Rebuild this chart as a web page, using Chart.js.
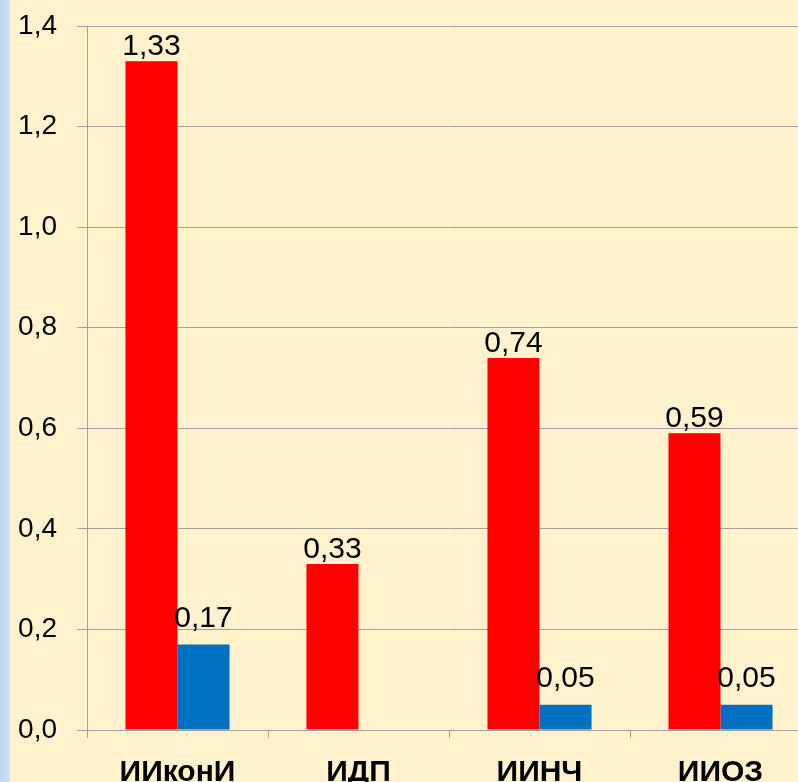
<!DOCTYPE html>
<html>
<head>
<meta charset="utf-8">
<script src="https://cdn.jsdelivr.net/npm/chart.js@4"></script>
<style>
  html, body { margin: 0; padding: 0; width: 798px; height: 782px; overflow: hidden; background: #fff2cc; }
  #strip { position: absolute; left: 0; top: 0; width: 10px; height: 782px;
    background: linear-gradient(to right, #c0d6ef, #d6e4f4); }
  #wrap { position: absolute; left: 0; top: 0; width: 812px; height: 782px; }
</style>
</head>
<body>
<div id="strip"></div>
<div id="wrap"><canvas id="chart" width="812" height="782"></canvas></div>
<script>
const categories = ['ИИконИ', 'ИДП', 'ИИНЧ', 'ИИОЗ'];
const redValues = [1.33, 0.33, 0.74, 0.59];
const blueValues = [0.17, null, 0.05, 0.05];
const yTicks = [0, 0.2, 0.4, 0.6, 0.8, 1.0, 1.2, 1.4];

const fmt = (v) => v.toFixed(2).replace('.', ',');
const FONT = 'Arial, "Liberation Sans", sans-serif';

// Draw value labels above each bar (blue labels sit a bit higher, like the original)
const labelGap = [6, 18];
const valueLabels = {
  id: 'valueLabels',
  afterDatasetsDraw(chart) {
    const ctx = chart.ctx;
    ctx.save();
    ctx.font = '30px ' + FONT;
    ctx.fillStyle = '#000';
    ctx.textAlign = 'center';
    ctx.textBaseline = 'alphabetic';
    chart.data.datasets.forEach((ds, i) => {
      chart.getDatasetMeta(i).data.forEach((bar, j) => {
        const v = ds.data[j];
        if (v == null) return;
        ctx.fillText(fmt(v), bar.x, bar.y - labelGap[i]);
      });
    });
    ctx.restore();
  }
};

new Chart(document.getElementById('chart'), {
  type: 'bar',
  data: {
    labels: categories,
    datasets: [
      { data: redValues, backgroundColor: '#ff0000' },
      { data: blueValues, backgroundColor: '#0070c0' },
    ],
  },
  options: {
    responsive: false,
    animation: false,
    layout: { padding: { left: 10, top: 26, right: 1, bottom: 0 } },
    plugins: { legend: { display: false }, tooltip: { enabled: false } },
    datasets: { bar: { categoryPercentage: 0.575, barPercentage: 1.0 } },
    scales: {
      x: {
        grid: { drawOnChartArea: false, color: '#a0a0a0', tickLength: 8, offset: true },
        border: { color: '#a0a0a0' },
        ticks: {
          color: '#000',
          padding: 17,
          font: { family: FONT, size: 30, weight: 'bold' },
        },
        afterFit(scale) { scale.height = 52; scale.paddingLeft = 0; scale.paddingRight = 0; },
      },
      y: {
        min: 0,
        max: 1.4,
        afterBuildTicks(scale) { scale.ticks = yTicks.map((v) => ({ value: v })); },
        grid: { color: '#a0a0a0', tickLength: 10 },
        border: { color: '#a0a0a0' },
        ticks: {
          color: '#000',
          padding: 20,
          font: { family: FONT, size: 28 },
          callback: (v) => v.toFixed(1).replace('.', ','),
        },
        afterFit(scale) { scale.width = 77; scale.paddingTop = 0; scale.paddingBottom = 0; },
      },
    },
  },
  plugins: [valueLabels],
});
</script>
</body>
</html>
